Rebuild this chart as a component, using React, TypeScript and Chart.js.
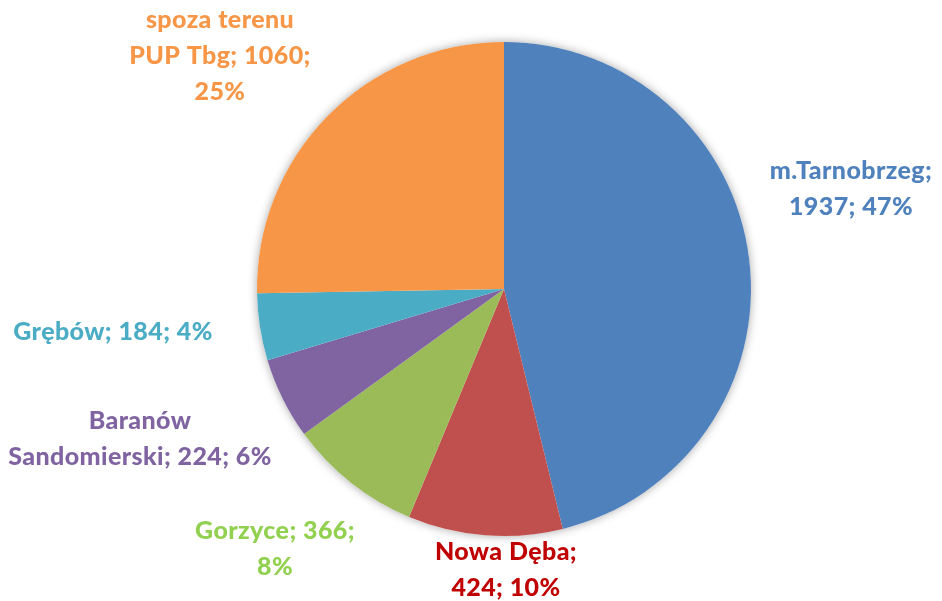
import React, { useEffect, useRef } from "react";
import { Chart, registerables } from "chart.js";

Chart.register(...registerables);

const categories = ["m.Tarnobrzeg", "Nowa Dęba", "Gorzyce", "Baranów Sandomierski", "Grębów", "spoza terenu PUP Tbg"];
const values = [1937, 424, 366, 224, 184, 1060];
const percentLabels = ["47%", "10%", "8%", "6%", "4%", "25%"];
const labelLines = [
  ["m.Tarnobrzeg;", "1937; 47%"],
  ["Nowa Dęba;", "424; 10%"],
  ["Gorzyce; 366;", "8%"],
  ["Baranów", "Sandomierski; 224; 6%"],
  ["Grębów; 184; 4%"],
  ["spoza terenu", "PUP Tbg; 1060;", "25%"],
];
const sliceColors = ["#4F81BD", "#C0504D", "#9BBB59", "#8064A2", "#4BACC6", "#F79646"];
const labelColors = ["#4F81BD", "#C00000", "#92D050", "#8064A2", "#4BACC6", "#F79646"];

// label block centers, relative to pie center (px)
const labelOffsets: [number, number][] = [
  [347, -100],
  [2, 281],
  [-229, 260],
  [-364, 150],
  [-391, 43],
  [-284, -233],
];

const shadowPlugin = {
  id: "pieShadow",
  beforeDatasetsDraw(chart: any) {
    const meta = chart.getDatasetMeta(0);
    const arc = meta.data[0];
    if (!arc) return;
    const { x, y, outerRadius } = arc.getProps(["x", "y", "outerRadius"], true);
    const ctx = chart.ctx;
    ctx.save();
    ctx.shadowColor = "rgba(0,0,0,0.35)";
    ctx.shadowBlur = 10;
    ctx.shadowOffsetX = 0;
    ctx.shadowOffsetY = 0;
    ctx.beginPath();
    ctx.arc(x, y, outerRadius, 0, Math.PI * 2);
    ctx.fillStyle = "#ffffff";
    ctx.fill();
    ctx.restore();
  },
};

const labelPlugin = {
  id: "pieLabels",
  afterDatasetsDraw(chart: any) {
    const meta = chart.getDatasetMeta(0);
    const ctx = chart.ctx;
    const arc0 = meta.data[0];
    if (!arc0) return;
    const { x, y } = arc0.getProps(["x", "y"], true);
    ctx.save();
    ctx.font = "900 25px Lato";
    try {
      (ctx as any).letterSpacing = "0.4px";
    } catch (e) {}
    ctx.textAlign = "center";
    ctx.textBaseline = "middle";
    const lh = 36;
    meta.data.forEach((_: any, i: number) => {
      const lines = labelLines[i];
      const [dx, dy] = labelOffsets[i];
      const cx = x + dx;
      const cy = y + dy;
      ctx.fillStyle = labelColors[i];
      lines.forEach((ln, j) => {
        ctx.fillText(ln, cx, cy + (j - (lines.length - 1) / 2) * lh);
      });
    });
    ctx.restore();
  },
};

export default function App() {
  const ref = useRef<HTMLCanvasElement | null>(null);
  useEffect(() => {
    document.body.style.margin = "0";
    if (!ref.current) return;
    const chart = new Chart(ref.current, {
      type: "pie",
      data: {
        labels: categories,
        datasets: [
          {
            data: values,
            backgroundColor: sliceColors,
            borderWidth: 0,
          },
        ],
      },
      options: {
        animation: false,
        responsive: false,
        layout: { padding: { left: 256, right: 190, top: 42, bottom: 65 } },
        plugins: {
          legend: { display: false },
          tooltip: { enabled: false },
        },
      },
      plugins: [shadowPlugin, labelPlugin],
    });
    return () => chart.destroy();
  }, []);
  return (
    <div style={{ width: 942, height: 601, background: "#fff" }}>
      <canvas ref={ref} width={942} height={601} style={{ width: 942, height: 601, display: "block" }} />
    </div>
  );
}
